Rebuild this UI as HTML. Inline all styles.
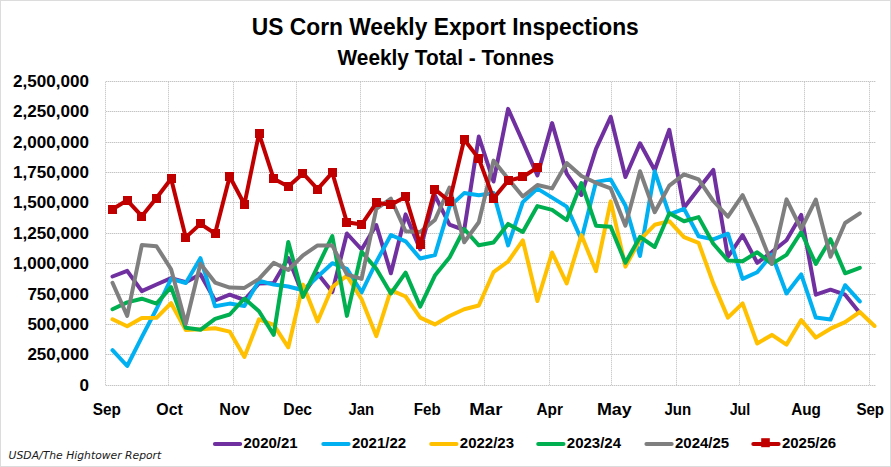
<!DOCTYPE html>
<html lang="en">
<head>
<meta charset="utf-8">
<title>US Corn Weekly Export Inspections</title>
<style>
html,body{margin:0;padding:0;background:#fff;}
body{width:891px;height:467px;overflow:hidden;}
svg{display:block;}
text{font-family:"Liberation Sans",sans-serif;fill:#000;}
.b{font-weight:bold;}
.src{font-family:"DejaVu Sans","Liberation Sans",sans-serif;font-style:italic;font-size:11px;fill:#1a1a1a;}
</style>
</head>
<body>
<svg width="891" height="467" viewBox="0 0 891 467">
<rect x="0" y="0" width="891" height="467" fill="#ffffff"/>
<rect x="0.5" y="0.5" width="890" height="466" fill="#ffffff" stroke="#dcdcdc" stroke-width="1" shape-rendering="crispEdges"/>
<text class="b" x="251.8" y="34.8" font-size="24.4" textLength="387" lengthAdjust="spacingAndGlyphs">US Corn Weekly Export Inspections</text>
<text class="b" x="337.5" y="64.9" font-size="21.5" textLength="216.6" lengthAdjust="spacingAndGlyphs">Weekly Total - Tonnes</text>
<g stroke-width="1" shape-rendering="crispEdges" fill="none">
<g stroke="#e9e9e9">
<line x1="105.0" y1="81.5" x2="876.0" y2="81.5"/>
<line x1="105.0" y1="111.5" x2="876.0" y2="111.5"/>
<line x1="105.0" y1="142.5" x2="876.0" y2="142.5"/>
<line x1="105.0" y1="172.5" x2="876.0" y2="172.5"/>
<line x1="105.0" y1="202.5" x2="876.0" y2="202.5"/>
<line x1="105.0" y1="233.5" x2="876.0" y2="233.5"/>
<line x1="105.0" y1="263.5" x2="876.0" y2="263.5"/>
<line x1="105.0" y1="294.5" x2="876.0" y2="294.5"/>
<line x1="105.0" y1="324.5" x2="876.0" y2="324.5"/>
<line x1="105.0" y1="354.5" x2="876.0" y2="354.5"/>
<line x1="105.0" y1="385.5" x2="876.0" y2="385.5"/>
</g>
<g stroke="#eeeeee">
<line x1="105.5" y1="82" x2="105.5" y2="385"/>
<line x1="168.5" y1="82" x2="168.5" y2="385"/>
<line x1="233.5" y1="82" x2="233.5" y2="385"/>
<line x1="296.5" y1="82" x2="296.5" y2="385"/>
<line x1="360.5" y1="82" x2="360.5" y2="385"/>
<line x1="425.5" y1="82" x2="425.5" y2="385"/>
<line x1="484.5" y1="82" x2="484.5" y2="385"/>
<line x1="549.5" y1="82" x2="549.5" y2="385"/>
<line x1="611.5" y1="82" x2="611.5" y2="385"/>
<line x1="676.5" y1="82" x2="676.5" y2="385"/>
<line x1="739.5" y1="82" x2="739.5" y2="385"/>
<line x1="804.5" y1="82" x2="804.5" y2="385"/>
<line x1="869.5" y1="82" x2="869.5" y2="385"/>
</g>
<g stroke="#c4c4c4" stroke-dasharray="1 1" stroke-dashoffset="1">
<line x1="105.0" y1="81.5" x2="876.0" y2="81.5"/>
<line x1="105.0" y1="111.5" x2="876.0" y2="111.5"/>
<line x1="105.0" y1="142.5" x2="876.0" y2="142.5"/>
<line x1="105.0" y1="172.5" x2="876.0" y2="172.5"/>
<line x1="105.0" y1="202.5" x2="876.0" y2="202.5"/>
<line x1="105.0" y1="233.5" x2="876.0" y2="233.5"/>
<line x1="105.0" y1="263.5" x2="876.0" y2="263.5"/>
<line x1="105.0" y1="294.5" x2="876.0" y2="294.5"/>
<line x1="105.0" y1="324.5" x2="876.0" y2="324.5"/>
<line x1="105.0" y1="354.5" x2="876.0" y2="354.5"/>
<line x1="105.0" y1="385.5" x2="876.0" y2="385.5"/>
</g>
<g stroke="#cccccc" stroke-dasharray="1 1">
<line x1="105.5" y1="82" x2="105.5" y2="385"/>
<line x1="168.5" y1="82" x2="168.5" y2="385"/>
<line x1="233.5" y1="82" x2="233.5" y2="385"/>
<line x1="296.5" y1="82" x2="296.5" y2="385"/>
<line x1="360.5" y1="82" x2="360.5" y2="385"/>
<line x1="425.5" y1="82" x2="425.5" y2="385"/>
<line x1="484.5" y1="82" x2="484.5" y2="385"/>
<line x1="549.5" y1="82" x2="549.5" y2="385"/>
<line x1="611.5" y1="82" x2="611.5" y2="385"/>
<line x1="676.5" y1="82" x2="676.5" y2="385"/>
<line x1="739.5" y1="82" x2="739.5" y2="385"/>
<line x1="804.5" y1="82" x2="804.5" y2="385"/>
<line x1="869.5" y1="82" x2="869.5" y2="385"/>
</g>
</g>
<text class="b" x="13.1" y="86.8" font-size="17.1" textLength="75.9" lengthAdjust="spacingAndGlyphs">2,500,000</text>
<text class="b" x="13.1" y="116.8" font-size="17.1" textLength="75.9" lengthAdjust="spacingAndGlyphs">2,250,000</text>
<text class="b" x="13.1" y="147.8" font-size="17.1" textLength="75.9" lengthAdjust="spacingAndGlyphs">2,000,000</text>
<text class="b" x="13.1" y="177.8" font-size="17.1" textLength="75.9" lengthAdjust="spacingAndGlyphs">1,750,000</text>
<text class="b" x="13.1" y="207.8" font-size="17.1" textLength="75.9" lengthAdjust="spacingAndGlyphs">1,500,000</text>
<text class="b" x="13.1" y="238.8" font-size="17.1" textLength="75.9" lengthAdjust="spacingAndGlyphs">1,250,000</text>
<text class="b" x="13.1" y="268.8" font-size="17.1" textLength="75.9" lengthAdjust="spacingAndGlyphs">1,000,000</text>
<text class="b" x="27.4" y="299.8" font-size="17.1" textLength="61.6" lengthAdjust="spacingAndGlyphs">750,000</text>
<text class="b" x="27.4" y="329.8" font-size="17.1" textLength="61.6" lengthAdjust="spacingAndGlyphs">500,000</text>
<text class="b" x="27.4" y="359.8" font-size="17.1" textLength="61.6" lengthAdjust="spacingAndGlyphs">250,000</text>
<text class="b" x="79.5" y="390.8" font-size="17.1" textLength="9.5" lengthAdjust="spacingAndGlyphs">0</text>
<text class="b" x="92.8" y="414.6" font-size="17.2" textLength="28.1" lengthAdjust="spacingAndGlyphs">Sep</text>
<text class="b" x="156.3" y="414.6" font-size="17.2" textLength="26.5" lengthAdjust="spacingAndGlyphs">Oct</text>
<text class="b" x="219.2" y="414.6" font-size="17.2" textLength="30.7" lengthAdjust="spacingAndGlyphs">Nov</text>
<text class="b" x="283.3" y="414.6" font-size="17.2" textLength="28.8" lengthAdjust="spacingAndGlyphs">Dec</text>
<text class="b" x="348.5" y="414.6" font-size="17.2" textLength="25.6" lengthAdjust="spacingAndGlyphs">Jan</text>
<text class="b" x="413.8" y="414.6" font-size="17.2" textLength="26.9" lengthAdjust="spacingAndGlyphs">Feb</text>
<text class="b" x="469.3" y="414.6" font-size="17.2" textLength="33.1" lengthAdjust="spacingAndGlyphs">Mar</text>
<text class="b" x="536.5" y="414.6" font-size="17.2" textLength="26.5" lengthAdjust="spacingAndGlyphs">Apr</text>
<text class="b" x="596.9" y="414.6" font-size="17.2" textLength="34.8" lengthAdjust="spacingAndGlyphs">May</text>
<text class="b" x="664.5" y="414.6" font-size="17.2" textLength="26.7" lengthAdjust="spacingAndGlyphs">Jun</text>
<text class="b" x="729.7" y="414.6" font-size="17.2" textLength="20.6" lengthAdjust="spacingAndGlyphs">Jul</text>
<text class="b" x="791.2" y="414.6" font-size="17.2" textLength="29.7" lengthAdjust="spacingAndGlyphs">Aug</text>
<text class="b" x="856.4" y="414.6" font-size="17.2" textLength="27.7" lengthAdjust="spacingAndGlyphs">Sep</text>
<polyline points="112.5,276.5 127.2,270.9 141.8,291.1 156.5,284.5 171.1,278.2 185.8,282.3 200.4,274.3 215.1,300.5 229.7,294.7 244.4,300.0 259.0,283.4 273.7,283.0 288.3,258.0 303.0,295.0 317.6,273.5 332.3,291.9 346.9,233.5 361.6,249.5 376.3,225.0 390.9,273.3 405.6,214.4 420.2,249.5 434.9,195.3 449.5,224.6 464.2,230.0 478.8,136.6 493.5,181.5 508.1,108.9 522.8,141.7 537.4,175.4 552.1,123.1 566.7,173.7 581.4,195.0 596.0,148.9 610.7,116.8 625.4,177.0 640.0,143.3 654.7,170.3 669.3,129.8 684.0,207.7 698.6,188.8 713.3,169.9 727.9,257.0 742.6,235.1 757.2,262.8 771.9,252.0 786.5,240.3 801.2,214.9 815.8,294.7 830.5,289.7 845.1,294.7 859.8,313.0" fill="none" stroke="#7030A0" stroke-width="4" stroke-linejoin="round" stroke-linecap="round"/>
<polyline points="112.5,350.2 127.2,366.0 141.8,337.2 156.5,309.0 171.1,278.8 185.8,283.0 200.4,258.2 215.1,306.3 229.7,303.6 244.4,305.9 259.0,280.7 273.7,284.6 288.3,286.5 303.0,290.2 317.6,276.7 332.3,263.2 346.9,268.8 361.6,292.4 376.3,262.0 390.9,235.0 405.6,241.3 420.2,258.5 434.9,255.1 449.5,206.6 464.2,193.1 478.8,195.3 493.5,193.1 508.1,245.4 522.8,202.1 537.4,188.6 552.1,197.6 566.7,206.6 581.4,239.4 596.0,181.9 610.7,179.4 625.4,205.4 640.0,256.0 654.7,171.3 669.3,214.4 684.0,208.8 698.6,236.3 713.3,239.4 727.9,233.7 742.6,278.9 757.2,272.2 771.9,254.5 786.5,293.5 801.2,274.4 815.8,317.6 830.5,319.6 845.1,285.2 859.8,301.4" fill="none" stroke="#00B0F0" stroke-width="4" stroke-linejoin="round" stroke-linecap="round"/>
<polyline points="112.5,319.3 127.2,326.3 141.8,318.0 156.5,317.8 171.1,303.2 185.8,330.0 200.4,329.3 215.1,328.2 229.7,331.6 244.4,357.0 259.0,319.3 273.7,324.8 288.3,347.3 303.0,284.6 317.6,321.5 332.3,287.0 346.9,275.6 361.6,299.2 376.3,336.1 390.9,290.2 405.6,296.5 420.2,317.6 434.9,324.4 449.5,316.0 464.2,309.2 478.8,305.5 493.5,272.2 508.1,261.5 522.8,240.3 537.4,301.0 552.1,252.5 566.7,283.4 581.4,235.1 596.0,271.1 610.7,201.4 625.4,266.6 640.0,239.8 654.7,224.8 669.3,221.2 684.0,237.2 698.6,242.8 713.3,283.4 727.9,317.6 742.6,303.4 757.2,343.5 771.9,334.9 786.5,344.6 801.2,320.0 815.8,337.6 830.5,328.7 845.1,322.2 859.8,312.0 874.5,326.0" fill="none" stroke="#FFC000" stroke-width="4" stroke-linejoin="round" stroke-linecap="round"/>
<polyline points="112.5,309.2 127.2,302.4 141.8,298.7 156.5,303.7 171.1,287.2 185.8,327.7 200.4,329.8 215.1,318.8 229.7,314.5 244.4,298.5 259.0,311.2 273.7,334.9 288.3,241.9 303.0,296.9 317.6,266.6 332.3,236.0 346.9,315.9 361.6,251.8 376.3,268.8 390.9,293.5 405.6,272.6 420.2,306.6 434.9,275.6 449.5,257.6 464.2,229.0 478.8,245.3 493.5,242.5 508.1,223.9 522.8,232.0 537.4,206.1 552.1,209.9 566.7,220.1 581.4,183.0 596.0,225.7 610.7,226.8 625.4,262.8 640.0,236.9 654.7,247.0 669.3,213.3 684.0,221.2 698.6,217.1 713.3,243.7 727.9,260.5 742.6,261.2 757.2,252.2 771.9,263.9 786.5,254.9 801.2,232.0 815.8,263.9 830.5,239.2 845.1,273.3 859.8,267.8" fill="none" stroke="#00B050" stroke-width="4" stroke-linejoin="round" stroke-linecap="round"/>
<polyline points="112.5,282.8 127.2,315.9 141.8,245.1 156.5,246.2 171.1,269.2 185.8,323.8 200.4,263.8 215.1,282.6 229.7,287.6 244.4,287.9 259.0,278.9 273.7,262.8 288.3,270.0 303.0,255.3 317.6,245.4 332.3,245.4 346.9,274.4 361.6,278.9 376.3,208.8 390.9,198.7 405.6,231.3 420.2,232.0 434.9,220.0 449.5,187.5 464.2,242.2 478.8,222.3 493.5,160.6 508.1,178.8 522.8,196.5 537.4,185.0 552.1,188.4 566.7,163.1 581.4,176.0 596.0,182.8 610.7,188.4 625.4,225.7 640.0,171.3 654.7,212.2 669.3,185.6 684.0,174.3 698.6,179.4 713.3,201.0 727.9,216.7 742.6,195.2 757.2,226.8 771.9,263.9 786.5,199.4 801.2,229.0 815.8,199.6 830.5,256.7 845.1,223.0 859.8,213.3" fill="none" stroke="#7F7F7F" stroke-width="4" stroke-linejoin="round" stroke-linecap="round"/>
<polyline points="112.5,209.3 127.2,200.3 141.8,216.2 156.5,198.0 171.1,178.8 185.8,237.4 200.4,223.9 215.1,233.5 229.7,176.5 244.4,204.3 259.0,133.7 273.7,178.8 288.3,186.6 303.0,173.4 317.6,189.1 332.3,172.7 346.9,222.3 361.6,224.6 376.3,202.8 390.9,204.8 405.6,196.7 420.2,244.8 434.9,189.3 449.5,201.4 464.2,139.5 478.8,158.6 493.5,198.4 508.1,180.8 522.8,177.0 537.4,167.4" fill="none" stroke="#C00000" stroke-width="4" stroke-linejoin="round" stroke-linecap="round"/>
<g fill="#C00000">
<rect x="108" y="205" width="9" height="9"/>
<rect x="123" y="196" width="9" height="9"/>
<rect x="137" y="212" width="9" height="9"/>
<rect x="152" y="194" width="9" height="9"/>
<rect x="167" y="174" width="9" height="9"/>
<rect x="181" y="233" width="9" height="9"/>
<rect x="196" y="219" width="9" height="9"/>
<rect x="211" y="229" width="9" height="9"/>
<rect x="225" y="172" width="9" height="9"/>
<rect x="240" y="200" width="9" height="9"/>
<rect x="255" y="129" width="9" height="9"/>
<rect x="269" y="174" width="9" height="9"/>
<rect x="284" y="182" width="9" height="9"/>
<rect x="298" y="169" width="9" height="9"/>
<rect x="313" y="185" width="9" height="9"/>
<rect x="328" y="168" width="9" height="9"/>
<rect x="342" y="218" width="9" height="9"/>
<rect x="357" y="220" width="9" height="9"/>
<rect x="372" y="198" width="9" height="9"/>
<rect x="386" y="200" width="9" height="9"/>
<rect x="401" y="192" width="9" height="9"/>
<rect x="416" y="240" width="9" height="9"/>
<rect x="430" y="185" width="9" height="9"/>
<rect x="445" y="197" width="9" height="9"/>
<rect x="460" y="135" width="9" height="9"/>
<rect x="474" y="154" width="9" height="9"/>
<rect x="489" y="194" width="9" height="9"/>
<rect x="504" y="176" width="9" height="9"/>
<rect x="518" y="172" width="9" height="9"/>
<rect x="533" y="163" width="9" height="9"/>
</g>
<line x1="214.9" y1="443.9" x2="240.2" y2="443.9" stroke="#7030A0" stroke-width="4" stroke-linecap="round"/>
<text class="b" x="243.5" y="447.6" font-size="14.2" textLength="54.2" lengthAdjust="spacingAndGlyphs">2020/21</text>
<line x1="323.3" y1="443.9" x2="348.6" y2="443.9" stroke="#00B0F0" stroke-width="4" stroke-linecap="round"/>
<text class="b" x="351.9" y="447.6" font-size="14.2" textLength="54.2" lengthAdjust="spacingAndGlyphs">2021/22</text>
<line x1="431.2" y1="443.9" x2="456.5" y2="443.9" stroke="#FFC000" stroke-width="4" stroke-linecap="round"/>
<text class="b" x="459.8" y="447.6" font-size="14.2" textLength="54.2" lengthAdjust="spacingAndGlyphs">2022/23</text>
<line x1="538.2" y1="443.9" x2="563.5" y2="443.9" stroke="#00B050" stroke-width="4" stroke-linecap="round"/>
<text class="b" x="566.8" y="447.6" font-size="14.2" textLength="54.2" lengthAdjust="spacingAndGlyphs">2023/24</text>
<line x1="646.4" y1="443.9" x2="671.7" y2="443.9" stroke="#7F7F7F" stroke-width="4" stroke-linecap="round"/>
<text class="b" x="675.0" y="447.6" font-size="14.2" textLength="54.2" lengthAdjust="spacingAndGlyphs">2024/25</text>
<line x1="753.3" y1="443.9" x2="778.6" y2="443.9" stroke="#C00000" stroke-width="4" stroke-linecap="round"/>
<rect x="761.2" y="438.2" width="8.6" height="9" fill="#C00000"/>
<text class="b" x="781.9" y="447.6" font-size="14.2" textLength="54.2" lengthAdjust="spacingAndGlyphs">2025/26</text>
<text class="src" x="8.6" y="459.1" textLength="152.7" lengthAdjust="spacingAndGlyphs">USDA/The Hightower Report</text>
</svg>
</body>
</html>
